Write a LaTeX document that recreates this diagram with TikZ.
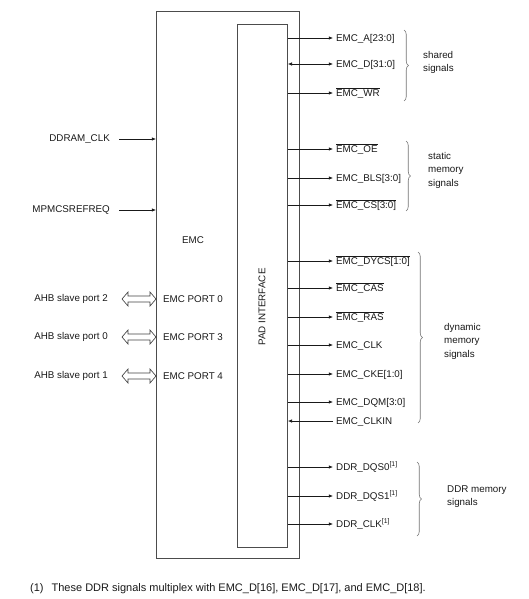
\documentclass[tikz,border=0pt]{standalone}
\usepackage{fontspec}
\setmainfont{Liberation Sans}
\usetikzlibrary{arrows.meta,decorations.pathreplacing,calc}
\begin{document}
\begin{tikzpicture}[x=1pt,y=-1pt,
  lbl/.style={font=\fontsize{9.8}{11}\selectfont, inner sep=0pt, text=black!90},
  sig/.style={lbl, anchor=base west},
  grp/.style={lbl, anchor=north west, align=left, font=\fontsize{9.8}{13.5}\selectfont},
  box/.style={draw=black!70, line width=0.8pt, inner sep=0pt},
  wire/.style={draw=black!90, line width=0.65pt},
  arr/.style={wire, -{Latex[length=4.2pt,width=3.4pt]}},
  darr/.style={wire, {Latex[length=4.2pt,width=3.4pt]}-{Latex[length=4.2pt,width=3.4pt]}},
  brc/.style={draw=black!55, line width=0.6pt, decorate, decoration={brace, amplitude=4.5pt}},
  ]
\useasboundingbox (0,0) rectangle (528,599);

% boxes
\node[box, minimum width=143pt, minimum height=547pt, anchor=north west] (emc) at (156,11) {};
\node[box, minimum width=50pt, minimum height=523pt, anchor=north west] (pad) at (237,24) {};
\node[lbl] (emclbl) at (193,240) {EMC};
\node[lbl, rotate=90] (padlbl) at (262,307) {PAD INTERFACE};

% left inputs
\node[lbl, anchor=east] (ddramclk) at (110,139) {DDRAM\_CLK};
\node[lbl, anchor=east] (mpmc) at (110,210) {MPMCSREFREQ};
\draw[arr] ($(ddramclk.east)+(9,0)$) -- (emc.west |- ddramclk);
\draw[arr] ($(mpmc.east)+(9,0)$) -- (emc.west |- mpmc);

% AHB ports
\foreach \yy/\ahb/\port in {299/2/0, 337/0/3, 376/1/4}{
  \node[lbl, anchor=east] (ahb\ahb) at (108,\yy) {AHB slave port \ahb};
  \node[lbl, anchor=west] (port\port) at (163,\yy) {EMC PORT \port};
  \draw[wire, draw=black!75] ($(emc.west |- ahb\ahb)+(-34,0)$) -- ++(6,-7) -- ++(0,4) -- ++(22,0) -- ++(0,-4)
     -- ++(6,7) -- ++(-6,7) -- ++(0,-4) -- ++(-22,0) -- ++(0,4) -- cycle;
}

% right signals: tip coordinates
\foreach \n/\yy in {A/38, D/64, WR/93, OE/149, BLS/178, CS/205, DYCS/261, CAS/288, RAS/317,
                    CLK/345, CKE/374, DQM/402, CLKIN/421, DQSa/467, DQSb/496, DDRCLK/524}{
  \coordinate (t\n) at (333,\yy);
}
\node[sig] (sA) at ($(tA)+(3,3.5)$) {EMC\_A[23:0]};
\node[sig] (sD) at ($(tD)+(3,3.5)$) {EMC\_D[31:0]};
\node[sig] (sWR) at ($(tWR)+(3,3.5)$) {$\overline{\mbox{EMC\_WR}}$};
\node[sig] (sOE) at ($(tOE)+(3,3.5)$) {$\overline{\mbox{EMC\_OE}}$};
\node[sig] (sBLS) at ($(tBLS)+(3,3.5)$) {EMC\_BLS[3:0]};
\node[sig] (sCS) at ($(tCS)+(3,3.5)$) {$\overline{\mbox{EMC\_CS[3:0]}}$};
\node[sig] (sDYCS) at ($(tDYCS)+(3,3.5)$) {$\overline{\mbox{EMC\_DYCS[1:0]}}$};
\node[sig] (sCAS) at ($(tCAS)+(3,3.5)$) {$\overline{\mbox{EMC\_CAS}}$};
\node[sig] (sRAS) at ($(tRAS)+(3,3.5)$) {$\overline{\mbox{EMC\_RAS}}$};
\node[sig] (sCLK) at ($(tCLK)+(3,3.5)$) {EMC\_CLK};
\node[sig] (sCKE) at ($(tCKE)+(3,3.5)$) {EMC\_CKE[1:0]};
\node[sig] (sDQM) at ($(tDQM)+(3,3.5)$) {EMC\_DQM[3:0]};
\node[sig] (sCLKIN) at ($(tCLKIN)+(3,3.5)$) {EMC\_CLKIN};
\node[sig] (sDQSa) at ($(tDQSa)+(3,3.5)$) {DDR\_DQS0\textsuperscript{[1]}};
\node[sig] (sDQSb) at ($(tDQSb)+(3,3.5)$) {DDR\_DQS1\textsuperscript{[1]}};
\node[sig] (sDDRCLK) at ($(tDDRCLK)+(3,3.5)$) {DDR\_CLK\textsuperscript{[1]}};

\foreach \n in {A, WR, OE, BLS, CS, DYCS, CAS, RAS, CLK, CKE, DQM, DQSa, DQSb, DDRCLK}{
  \draw[arr] (pad.east |- t\n) -- (t\n);
}
\draw[darr] (pad.east |- tD) -- (tD);
\draw[arr] (tCLKIN) -- (pad.east |- tCLKIN);

% braces and group labels
\coordinate (b1t) at (404,30);  \coordinate (b1b) at (404,101);
\coordinate (b2t) at (406,141); \coordinate (b2b) at (406,211);
\coordinate (b3t) at (418,252); \coordinate (b3b) at (418,423);
\coordinate (b4t) at (417,462); \coordinate (b4b) at (417,536);
\draw[brc] (b1t) -- (b1b);
\draw[brc] (b2t) -- (b2b);
\draw[brc] (b3t) -- (b3b);
\draw[brc] (b4t) -- (b4b);
\node[grp] (g1) at (423,51) {shared\\signals};
\node[grp] (g2) at (428,152) {static\\memory\\signals};
\node[grp] (g3) at (444,323) {dynamic\\memory\\signals};
\node[grp, font=\fontsize{9.8}{12.5}\selectfont] (g4) at (447,486) {DDR memory\\signals};

% footnote
\node[lbl, anchor=west, font=\fontsize{11}{13}\selectfont] (foot) at (30,589) {(1)\hspace{8pt}These DDR signals multiplex with EMC\_D[16], EMC\_D[17], and EMC\_D[18].};
\end{tikzpicture}
\end{document}
